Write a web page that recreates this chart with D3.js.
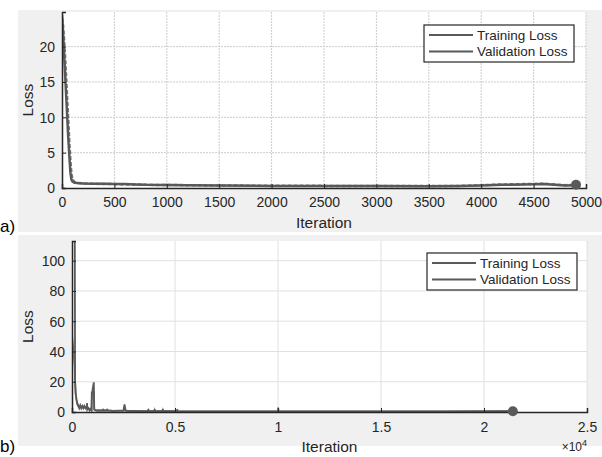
<!DOCTYPE html>
<html>
<head>
<meta charset="utf-8">
<script src="https://cdn.jsdelivr.net/npm/d3@7.9.0/dist/d3.min.js"></script>
<style>
  body { margin: 0; background: #fff; }
  svg { display: block; font-family: "Liberation Sans", Arial, sans-serif; }
</style>
</head>
<body>
<svg id="chart" width="602" height="457"></svg>
<script>
// Panel a data (iteration, loss)
const iterA = [0, 10, 20, 30, 40, 50, 60, 70, 80, 90, 100, 120, 150, 200, 300, 400, 500, 600, 700, 800, 1000, 1200, 1500, 2000, 2500, 3000, 3500, 3800, 4000, 4200, 4400, 4600, 4700, 4800, 4905];
const trainA = [24.5, 22, 19, 16, 13, 10, 7, 4.5, 2.2, 1.2, 0.9, 0.75, 0.7, 0.65, 0.6, 0.6, 0.55, 0.55, 0.5, 0.45, 0.42, 0.4, 0.35, 0.3, 0.28, 0.27, 0.26, 0.28, 0.35, 0.45, 0.5, 0.55, 0.45, 0.35, 0.4];
const validA = [24.0, 23, 21, 18.5, 15.5, 12.5, 9.5, 6.5, 4, 2, 1.2, 0.85, 0.7, 0.65, 0.6, 0.55, 0.55, 0.5, 0.5, 0.45, 0.42, 0.4, 0.35, 0.32, 0.3, 0.28, 0.27, 0.3, 0.4, 0.5, 0.55, 0.6, 0.5, 0.4, 0.45];
const xTicksA = [0, 500, 1000, 1500, 2000, 2500, 3000, 3500, 4000, 4500, 5000];
const yTicksA = [0, 5, 10, 15, 20];
const endA = [4905, 0.45];

// Panel b data (iteration, loss), rows kept aligned
const iterB = [
  0, 60, 130, 150, 180, 220, 260, 300,
  350, 400, 450, 500, 550, 600, 650, 700,
  720, 730, 740, 800, 850, 900, 950,
  960, 990, 1000, 1050, 1060, 1080, 1100, 1200,
  1500, 1510, 1520, 1700, 1710, 1720, 2000,
  2500, 2550, 2600, 2700, 3000, 3500,
  3700, 3710, 3720, 4000, 4010, 4020,
  4400, 4410, 4420, 5100, 5110, 5120, 5500,
  7000, 8500, 10000, 10010, 10020, 12000, 15000, 18000, 21400
];
const trainB = [
  150, 150, 150, 20, 12, 8, 5, 4,
  2.5, 4.5, 2.5, 4, 2.5, 4, 2.5, 3.5,
  2, 6, 1.5, 2.5, 1, 2, 1,
  13, 13, 15, 19, 19, 2, 1.5, 1,
  1, 2, 1, 1, 2, 1, 0.8,
  1, 5, 1, 0.8, 0.7, 0.6,
  0.6, 2, 0.6, 0.5, 2, 0.5,
  0.5, 2, 0.5, 0.5, 2, 0.4, 0.4,
  0.4, 0.4, 0.4, 3, 0.4, 0.4, 0.4, 0.4, 0.5
];
const validB = [
  51, 42, 30, 20, 12, 8, 6, 4.5,
  3.5, 3.5, 3, 3, 3, 3, 3, 3,
  3, 2.5, 2.5, 2, 2, 2, 1.5,
  8, 10, 12, 14, 10, 1.5, 1.2, 1,
  1, 1.2, 1, 1, 1.2, 1, 0.8,
  0.8, 3, 0.8, 0.7, 0.6, 0.6,
  0.6, 1, 0.6, 0.5, 1, 0.5,
  0.5, 1, 0.5, 0.5, 1, 0.4, 0.4,
  0.4, 0.4, 0.4, 1.5, 0.4, 0.4, 0.4, 0.4, 0.5
];
const xTicksB = [0, 5000, 10000, 15000, 20000, 25000];
const yTicksB = [0, 20, 40, 60, 80, 100];
const endB = [21400, 0.5];

const legendLabels = ['Training Loss', 'Validation Loss'];

const svg = d3.select('#chart');

function drawPanel(cfg) {
  const g = svg.append('g');
  // figure background
  g.append('rect').attr('x', 18).attr('y', cfg.bgTop).attr('width', 584).attr('height', cfg.bgH).attr('fill', '#f0f0f0');

  const x = d3.scaleLinear().domain(cfg.xDomain).range([cfg.left, cfg.right]);
  const y = d3.scaleLinear().domain(cfg.yDomain).range([cfg.bottom, cfg.top]);

  g.append('rect').attr('x', cfg.left).attr('y', cfg.top)
    .attr('width', cfg.right - cfg.left).attr('height', cfg.bottom - cfg.top).attr('fill', '#fff');

  // grid
  const grid = g.append('g').attr('stroke', cfg.gridColor).attr('stroke-width', 1)
    .attr('stroke-dasharray', cfg.gridDash);
  cfg.xTicks.filter(d => d > cfg.xDomain[0]).forEach(d => {
    grid.append('line').attr('x1', x(d)).attr('x2', x(d)).attr('y1', cfg.top).attr('y2', cfg.bottom);
  });
  cfg.yTicks.filter(d => d > 0).forEach(d => {
    grid.append('line').attr('x1', cfg.left).attr('x2', cfg.right).attr('y1', y(d)).attr('y2', y(d));
  });

  // lines
  const clipId = 'clip' + cfg.id;
  g.append('clipPath').attr('id', clipId).append('rect')
    .attr('x', cfg.left).attr('y', cfg.top).attr('width', cfg.right - cfg.left).attr('height', cfg.bottom - cfg.top);
  const line = d3.line().x(d => x(d[0])).y(d => y(d[1]));
  const lines = g.append('g').attr('clip-path', `url(#${clipId})`);
  lines.append('path').datum(cfg.iter.map((d, i) => [d, cfg.valid[i]]))
    .attr('d', line).attr('fill', 'none').attr('stroke', '#7a7a7a').attr('stroke-width', cfg.lw)
    .attr('stroke-dasharray', cfg.validDash);
  lines.append('path').datum(cfg.iter.map((d, i) => [d, cfg.train[i]]))
    .attr('d', line).attr('fill', 'none').attr('stroke', '#595959').attr('stroke-width', cfg.lw);

  // axes
  const xAxis = g.append('g').attr('transform', `translate(0,${cfg.bottom})`)
    .call(d3.axisBottom(x).tickValues(cfg.xTicks).tickSize(-4).tickPadding(cfg.xPad).tickFormat(cfg.xFormat));
  const yAxis = g.append('g').attr('transform', `translate(${cfg.left},0)`)
    .call(d3.axisLeft(y).tickValues(cfg.yTicks).tickSize(-4).tickPadding(7));
  [xAxis, yAxis].forEach(a => {
    a.select('.domain').attr('stroke', '#262626').attr('stroke-width', 1.5);
    a.selectAll('.tick line').attr('stroke', '#262626');
    a.selectAll('.tick text').attr('fill', '#262626').attr('font-size', 14);
  });
  yAxis.selectAll('.tick text').attr('dy', '0.35em');

  // end marker
  g.append('circle').attr('cx', x(cfg.end[0])).attr('cy', y(cfg.end[1])).attr('r', 5).attr('fill', '#5a5a5a');

  // labels
  g.append('text').attr('x', (cfg.left + cfg.right) / 2).attr('y', cfg.xLabelY)
    .attr('text-anchor', 'middle').attr('font-size', 15.5).attr('fill', '#262626').text('Iteration');
  g.append('text').attr('transform', `translate(33,${(cfg.top + cfg.bottom) / 2}) rotate(-90)`)
    .attr('text-anchor', 'middle').attr('font-size', 15.5).attr('fill', '#262626').text('Loss');

  // legend
  const lg = g.append('g').attr('transform', `translate(${cfg.legend[0]},${cfg.legend[1]})`);
  lg.append('rect').attr('width', 150).attr('height', 37).attr('fill', '#fff').attr('stroke', '#262626').attr('stroke-width', 1.2);
  legendLabels.forEach((t, i) => {
    lg.append('line').attr('x1', 5).attr('x2', 49).attr('y1', 10 + i * 16.5).attr('y2', 10 + i * 16.5)
      .attr('stroke', '#595959').attr('stroke-width', 2);
    lg.append('text').attr('x', 53).attr('y', 14.8 + i * 16.5).attr('font-size', 13.5).attr('fill', '#262626').text(t);
  });

  g.append('text').attr('x', 0).attr('y', cfg.tagY).attr('font-size', 17).attr('fill', '#000').text(cfg.tag);
  return { x, y, g };
}

drawPanel({
  id: 'a', tag: 'a)', tagY: 232, bgTop: 10, bgH: 222,
  left: 62, right: 586, top: 12, bottom: 188,
  xDomain: [0, 5000], yDomain: [0, 24.9],
  xTicks: xTicksA, yTicks: yTicksA, xFormat: d3.format('d'), xPad: 9,
  iter: iterA, train: trainA, valid: validA, end: endA,
  gridColor: '#cdcdcd', gridDash: '2,1', lw: 2.5, validDash: '4,2',
  xLabelY: 228, legend: [424, 25]
});

const pb = drawPanel({
  id: 'b', tag: 'b)', tagY: 452, bgTop: 235, bgH: 211,
  left: 72, right: 587, top: 241, bottom: 412,
  xDomain: [0, 25000], yDomain: [0, 113],
  xTicks: xTicksB, yTicks: yTicksB, xFormat: d => d3.format('~g')(d / 10000), xPad: 10,
  iter: iterB, train: trainB, valid: validB, end: endB,
  gridColor: '#e0e0e0', gridDash: null, lw: 1.8, validDash: null,
  xLabelY: 452, legend: [427, 253]
});

// ×10^4 exponent label
const ex = pb.g.append('text').attr('x', 587).attr('y', 451).attr('text-anchor', 'end')
  .attr('font-size', 12).attr('fill', '#262626');
ex.append('tspan').text('×10');
ex.append('tspan').attr('dy', -5).attr('font-size', 9).text('4');
</script>
</body>
</html>
